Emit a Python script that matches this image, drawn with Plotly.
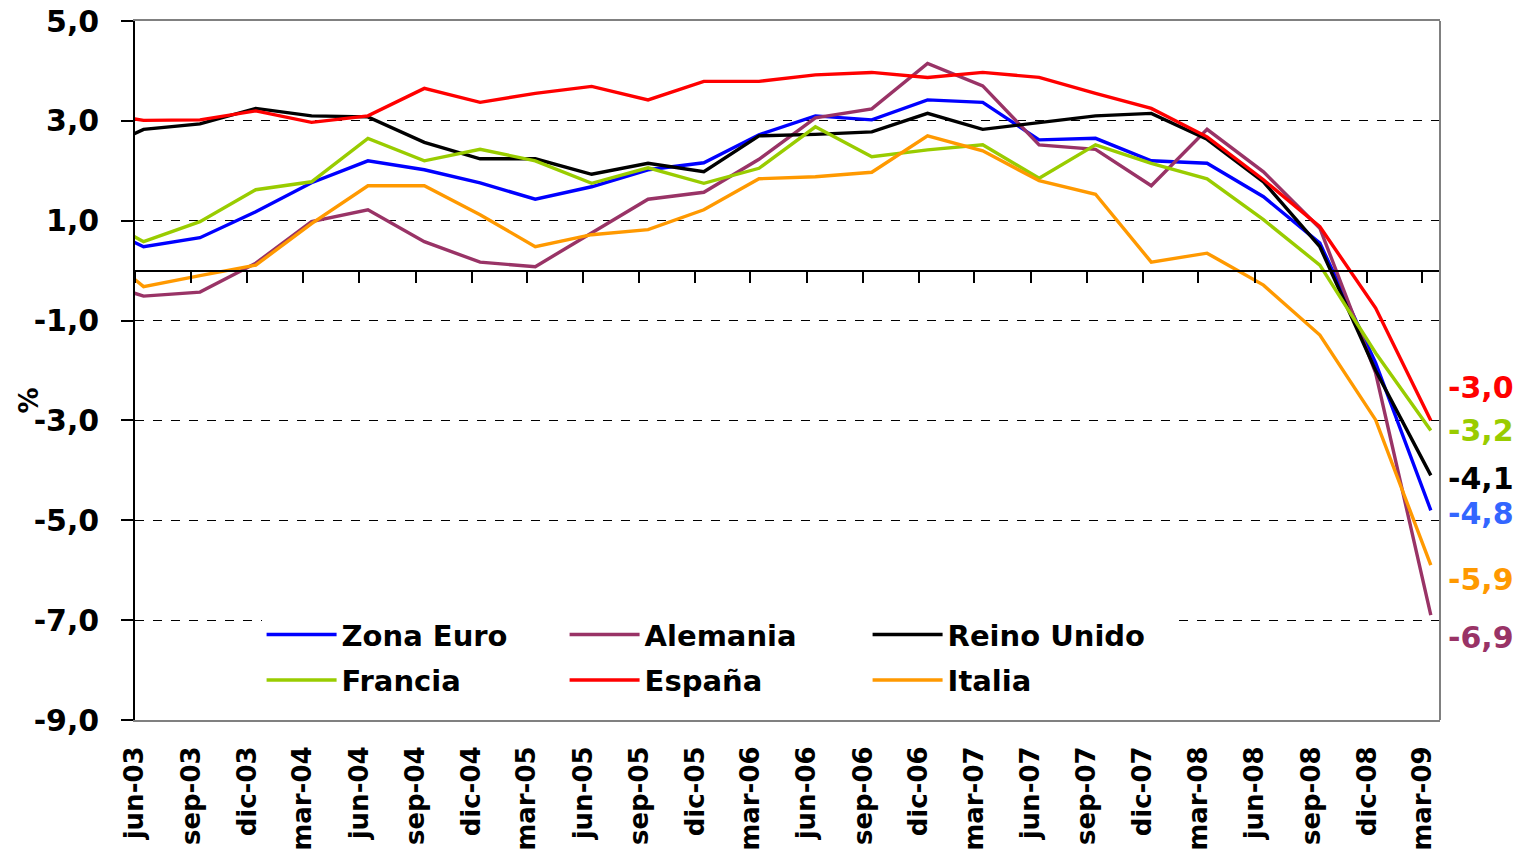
import plotly.graph_objects as go

# Quarter months (first entry is the quarter before the axis start, clipped at the left edge)
quarter_months = ["2003-03", "2003-06", "2003-09", "2003-12", "2004-03", "2004-06", "2004-09",
                  "2004-12", "2005-03", "2005-06", "2005-09", "2005-12", "2006-03", "2006-06",
                  "2006-09", "2006-12", "2007-03", "2007-06", "2007-09", "2007-12", "2008-03",
                  "2008-06", "2008-09", "2008-12", "2009-03"]
tick_labels = ["jun-03", "sep-03", "dic-03", "mar-04", "jun-04", "sep-04", "dic-04", "mar-05",
               "jun-05", "sep-05", "dic-05", "mar-06", "jun-06", "sep-06", "dic-06", "mar-07",
               "jun-07", "sep-07", "dic-07", "mar-08", "jun-08", "sep-08", "dic-08", "mar-09"]

zona_euro = [1.0, 0.48, 0.66, 1.18, 1.76, 2.2, 2.02, 1.76, 1.43, 1.68, 2.02, 2.16, 2.72, 3.1, 3.02,
             3.42, 3.37, 2.62, 2.65, 2.2, 2.15, 1.48, 0.55, -1.85, -4.8]
alemania = [-0.15, -0.51, -0.43, 0.15, 0.98, 1.22, 0.58, 0.17, 0.08, 0.75, 1.43, 1.57, 2.23, 3.06,
            3.24, 4.15, 3.7, 2.52, 2.43, 1.7, 2.83, 1.98, 0.85, -2.05, -6.9]
reino_unido = [2.3, 2.83, 2.94, 3.25, 3.1, 3.08, 2.57, 2.24, 2.24, 1.93, 2.15, 1.98, 2.7, 2.73, 2.78,
               3.15, 2.83, 2.96, 3.1, 3.15, 2.63, 1.78, 0.48, -2.0, -4.1]
francia = [1.2, 0.58, 0.98, 1.62, 1.78, 2.65, 2.2, 2.43, 2.2, 1.75, 2.06, 1.75, 2.05, 2.88, 2.28,
           2.42, 2.52, 1.85, 2.52, 2.15, 1.84, 1.02, 0.11, -1.65, -3.2]
espana = [3.2, 3.01, 3.02, 3.2, 2.97, 3.1, 3.65, 3.37, 3.55, 3.69, 3.42, 3.79, 3.79, 3.92, 3.97,
          3.87, 3.97, 3.87, 3.55, 3.25, 2.68, 1.82, 0.88, -0.75, -3.0]
italia = [0.6, -0.32, -0.1, 0.11, 0.94, 1.7, 1.7, 1.12, 0.48, 0.72, 0.82, 1.22, 1.84, 1.88, 1.97,
          2.7, 2.4, 1.8, 1.53, 0.17, 0.35, -0.29, -1.29, -2.99, -5.9]

y_ticks = [-9, -7, -5, -3, -1, 1, 3, 5]
y_title = "%"

FONT = "DejaVu Sans"

series = [
    # name, values, line colour, label colour, legend, label yshift
    ("Zona Euro", zona_euro, "#0000FF", "#3366FF", "legend", -3),
    ("Alemania", alemania, "#993366", "#993366", "legend", -22),
    ("Reino Unido", reino_unido, "#000000", "#000000", "legend", -3),
    ("Francia", francia, "#99CC00", "#99CC00", "legend2", 0),
    ("España", espana, "#FF0000", "#FF0000", "legend2", 33),
    ("Italia", italia, "#FF9900", "#FF9900", "legend2", -14),
]

x_dates = [m + "-15" for m in quarter_months]
tick_dates = [m + "-01" for m in quarter_months[1:]]
x_range = [tick_dates[0], "2009-03-30"]

fig = go.Figure()
for name, vals, col, lcol, leg, ysh in series:
    fig.add_trace(go.Scatter(x=x_dates, y=vals, mode="lines", name=name,
                             line=dict(color=col, width=3.4), legend=leg))

# invisible trace to carry the zero-line axis with its tick marks
fig.add_trace(go.Scatter(x=x_dates, y=reino_unido, xaxis="x2", mode="lines",
                         line=dict(color="rgba(0,0,0,0)", width=0), showlegend=False,
                         hoverinfo="skip"))

for name, vals, col, lcol, leg, ysh in series:
    fig.add_annotation(x=1, xref="paper", y=vals[-1], yref="y", xanchor="left", xshift=6,
                       yshift=ysh, showarrow=False,
                       text=f"{vals[-1]:.1f}".replace(".", ","),
                       font=dict(family=FONT, size=30, color=lcol, weight="bold"))

# y-axis title placed like the original (slightly below centre)
fig.add_annotation(x=0, xref="paper", xshift=-106, y=0.457, yref="paper", textangle=-90,
                   xanchor="center", yanchor="middle", showarrow=False, text=y_title,
                   font=dict(family=FONT, size=26, color="black", weight="bold"))

ylo, yhi = y_ticks[0], y_ticks[-1]

legend_common = dict(orientation="h", x=0.097, xanchor="left", yanchor="middle",
                     bgcolor="white", entrywidth=218, itemwidth=70, traceorder="normal",
                     font=dict(family=FONT, size=29, color="black", weight="bold"))

fig.update_layout(
    width=1525, height=856,
    margin=dict(l=134.5, r=85, t=21, b=136),
    paper_bgcolor="white", plot_bgcolor="white",
    font=dict(family=FONT, color="black"),
    xaxis=dict(type="date", range=x_range, tickvals=tick_dates, ticktext=tick_labels,
               tickangle=-90, ticks="", showgrid=False, zeroline=False,
               showline=True, linecolor="#808080", linewidth=2, mirror=True,
               ticklabelstandoff=14, automargin=False, ticklabeloverflow="allow",
               tickfont=dict(family=FONT, size=26, color="black", weight="bold")),
    xaxis2=dict(type="date", overlaying="x", anchor="free",
                position=(0 - ylo) / (yhi - ylo), range=x_range, tickvals=tick_dates,
                showticklabels=False, ticks="outside", ticklen=12, tickcolor="black",
                tickwidth=1.5, showline=True, linecolor="black", linewidth=1.5,
                showgrid=False, zeroline=False, automargin=False),
    yaxis=dict(range=[ylo, yhi], tickvals=y_ticks,
               ticktext=[f"{v:.1f}".replace(".", ",") for v in y_ticks],
               ticks="outside", ticklen=12, tickcolor="black", tickwidth=1.5,
               showline=True, linecolor="black", linewidth=1.5,
               showgrid=True, gridcolor="black", griddash="dash", gridwidth=1,
               zeroline=False, ticklabelstandoff=16, automargin=False,
               ticklabeloverflow="allow",
               tickfont=dict(family=FONT, size=30, color="black", weight="bold")),
    legend=dict(y=0.122, **legend_common),
    legend2=dict(y=0.057, **legend_common),
    showlegend=True,
    shapes=[dict(type="line", xref="x domain", yref="y domain", x0=1, x1=1, y0=0, y1=1,
                 line=dict(color="#808080", width=2), layer="above")],
)

# remove the default page margin so the figure fills the window exactly
fig.write_html("out.html", config={"displayModeBar": False},
               post_script="document.body.style.margin='0';")
